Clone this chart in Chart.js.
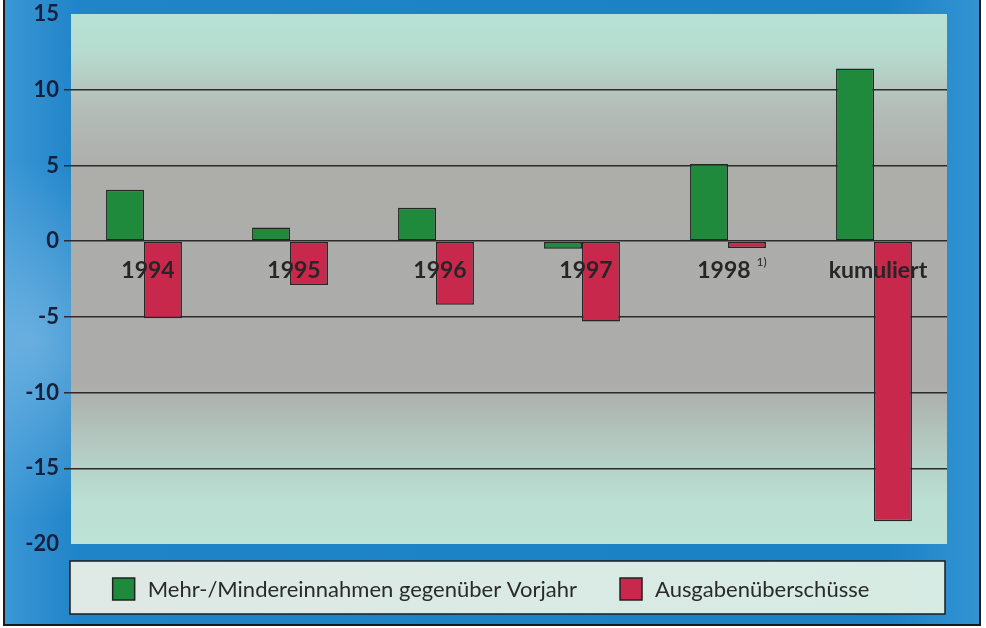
<!DOCTYPE html>
<html>
<head>
<meta charset="utf-8">
<title>Mehr-/Mindereinnahmen und Ausgabenüberschüsse</title>
<script src="https://cdn.jsdelivr.net/npm/chart.js@4.4.1/dist/chart.umd.min.js"></script>
<style>
  html, body { margin: 0; padding: 0; background: #fff; }
  #wrap { width: 986px; height: 628px; }
</style>
</head>
<body>
<div id="wrap"><canvas id="chart" width="986" height="628"></canvas></div>
<script>
// data
const categories = ['1994', '1995', '1996', '1997', '1998', 'kumuliert'];
const categoryNotes = ['', '', '', '', '1)', ''];
const mehrMinder = [3.4, 0.9, 2.2, -0.5, 5.1, 11.4];
const ausgaben = [-5.1, -2.9, -4.2, -5.3, -0.45, -18.5];
const seriesNames = ['Mehr-/Mindereinnahmen gegenüber Vorjahr', 'Ausgabenüberschüsse'];
const yMin = -20, yMax = 15, yStep = 5;

const GREEN = '#1f8a3b';
const RED = '#c8284c';
const FONT = 'Lato, "Open Sans", sans-serif';

// frame, plot background, category labels and legend box
const framePlugin = {
    id: 'frame',
    beforeDraw(chart) {
        const ctx = chart.ctx;
        const area = chart.chartArea;
        ctx.save();
        ctx.fillStyle = '#ffffff';
        ctx.fillRect(0, 0, chart.width, chart.height);

        // blue board
        const blue = ctx.createLinearGradient(0, 0, chart.width, 0);
        blue.addColorStop(0, '#3d98d6');
        blue.addColorStop(0.08, '#1f84c8');
        blue.addColorStop(0.9, '#1b82c6');
        blue.addColorStop(1, '#3595d4');
        ctx.fillStyle = blue;
        ctx.fillRect(4, 0, 976, 625);
        const glow = ctx.createRadialGradient(30, 340, 0, 30, 340, 180);
        glow.addColorStop(0, 'rgba(150,200,235,0.55)');
        glow.addColorStop(1, 'rgba(150,200,235,0)');
        ctx.fillStyle = glow;
        ctx.fillRect(4, 0, 200, 625);
        ctx.strokeStyle = '#1a1a1a';
        ctx.lineWidth = 2;
        ctx.beginPath();
        ctx.moveTo(4, 0); ctx.lineTo(4, 625); ctx.lineTo(980, 625); ctx.lineTo(980, 0);
        ctx.stroke();

        // plot area gradient
        const g = ctx.createLinearGradient(0, area.top, 0, area.bottom);
        g.addColorStop(0, '#b6e2d5');
        g.addColorStop(0.07, '#b7dccf');
        g.addColorStop(0.18, '#b3bcb7');
        g.addColorStop(0.3, '#adadaa');
        g.addColorStop(0.7, '#acadaa');
        g.addColorStop(0.83, '#b4cdc4');
        g.addColorStop(0.92, '#bbe0d3');
        g.addColorStop(1, '#bde3d6');
        ctx.fillStyle = g;
        ctx.fillRect(area.left, area.top, area.right - area.left, area.bottom - area.top);
        ctx.restore();
    },
    afterDatasetsDraw(chart) {
        const ctx = chart.ctx;
        const xs = chart.scales.x;
        const y0 = chart.scales.y.getPixelForValue(0) + 29;
        ctx.save();
        ctx.fillStyle = '#262626';
        ctx.textBaseline = 'middle';
        categories.forEach((cat, i) => {
            ctx.font = 'bold 23px ' + FONT;
            const w = ctx.measureText(cat).width;
            let noteW = 0;
            if (categoryNotes[i]) {
                ctx.font = '12px ' + FONT;
                noteW = ctx.measureText(categoryNotes[i]).width + 6;
            }
            const left = xs.getPixelForValue(i) + 4 - (w + noteW) / 2;
            ctx.font = 'bold 23px ' + FONT;
            ctx.textAlign = 'left';
            ctx.fillText(cat, left, y0);
            if (categoryNotes[i]) {
                ctx.font = '12px ' + FONT;
                ctx.fillText(categoryNotes[i], left + w + 6, y0 - 8);
            }
        });
        ctx.restore();
    },
    afterDraw(chart) {
        const ctx = chart.ctx;
        ctx.save();
        // legend box
        const bx = 70, by = 561, bw = 875, bh = 53;
        const lg = ctx.createLinearGradient(bx, 0, bx + bw, 0);
        lg.addColorStop(0, '#dfe9e6');
        lg.addColorStop(1, '#d6ebe3');
        ctx.fillStyle = lg;
        ctx.fillRect(bx, by, bw, bh);
        ctx.strokeStyle = '#1c1c1c';
        ctx.lineWidth = 1.5;
        ctx.strokeRect(bx, by, bw, bh);

        // legend items from the datasets
        ctx.font = '22px ' + FONT;
        ctx.textBaseline = 'middle';
        ctx.textAlign = 'left';
        const box = 22, gapText = 13, gapItem = 43;
        const items = chart.data.datasets.map(ds => ({
            label: ds.label, color: ds.backgroundColor, w: ctx.measureText(ds.label).width
        }));
        const total = items.reduce((s, it) => s + box + gapText + it.w, 0) + gapItem * (items.length - 1);
        let x = 491 - total / 2;
        const cy = 589;
        items.forEach(it => {
            ctx.fillStyle = it.color;
            ctx.fillRect(x, cy - 11, box, box);
            ctx.strokeStyle = '#222';
            ctx.lineWidth = 1.5;
            ctx.strokeRect(x, cy - 11, box, box);
            ctx.fillStyle = '#2a2a2a';
            ctx.fillText(it.label, x + box + gapText, cy + 1);
            x += box + gapText + it.w + gapItem;
        });
        ctx.restore();
    }
};

function draw() {
    new Chart(document.getElementById('chart'), {
        type: 'bar',
        data: {
            labels: categories,
            datasets: [
                {
                    label: seriesNames[0],
                    data: mehrMinder,
                    backgroundColor: GREEN,
                    borderColor: '#262626',
                    borderWidth: 1.5,
                    borderSkipped: false,
                    categoryPercentage: 0.52,
                    barPercentage: 1
                },
                {
                    label: seriesNames[1],
                    data: ausgaben,
                    backgroundColor: RED,
                    borderColor: '#262626',
                    borderWidth: 1.5,
                    borderSkipped: false,
                    categoryPercentage: 0.52,
                    barPercentage: 1
                }
            ]
        },
        options: {
            responsive: false,
            animation: false,
            layout: { autoPadding: false, padding: { left: 0, right: 39, top: 14, bottom: 84 } },
            plugins: {
                legend: { display: false },
                tooltip: { enabled: false }
            },
            scales: {
                x: { display: false },
                y: {
                    min: yMin,
                    max: yMax,
                    afterFit: (scale) => {
                        scale.width = 71;
                        scale.paddingTop = 0;
                        scale.paddingBottom = 0;
                    },
                    border: { display: false },
                    grid: {
                        color: (c) => (c.tick && (c.tick.value === yMax || c.tick.value === yMin)) ? 'rgba(0,0,0,0)' : '#2b2b2b',
                        lineWidth: 1.5,
                        tickLength: 7
                    },
                    ticks: {
                        stepSize: yStep,
                        padding: 5,
                        color: '#17203a',
                        font: { family: FONT, size: 22, weight: 'bold' }
                    }
                }
            }
        },
        plugins: [framePlugin]
    });
}

if (document.fonts && document.fonts.load) {
    Promise.all([
        document.fonts.load('bold 23px Lato'),
        document.fonts.load('22px Lato')
    ]).then(draw, draw);
} else {
    draw();
}
</script>
</body>
</html>
